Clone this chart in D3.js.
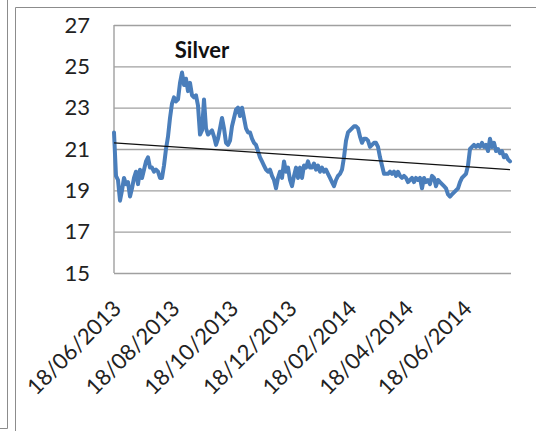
<!DOCTYPE html>
<html><head><meta charset="utf-8">
<script src="https://cdn.jsdelivr.net/npm/d3@7"></script>
<style>html,body{margin:0;padding:0;background:#fff;}svg{display:block;}</style>
</head><body>
<script>
// ---- data ----
const title = "Silver";
const dateRange = ["18/06/2013", "04/08/2014"];
const tickLabels = ["18/06/2013","18/08/2013","18/10/2013","18/12/2013","18/02/2014","18/04/2014","18/06/2014"];
const yTicks = [15, 17, 19, 21, 23, 25, 27];
const trendEnds = [21.3, 20.0];
const values = [
 21.8,19.7,19.5,18.5,19.0,19.6,19.3,19.4,18.7,19.1,19.6,19.9,19.3,20.0,19.6,20.0,20.4,20.6,20.1,20.1,
 19.9,20.0,19.9,19.6,19.6,20.2,21.0,21.6,22.5,23.2,23.5,23.3,23.4,24.2,24.7,24.1,24.4,23.8,24.2,23.6,
 23.5,23.6,23.1,21.7,21.9,23.4,22.0,21.7,21.8,
 21.9,21.6,21.2,21.5,22.0,22.5,22.0,21.3,21.2,21.4,22.1,22.5,22.9,23.0,22.6,23.0,22.5,22.0,21.8,21.8,
 21.5,21.3,21.2,20.9,20.6,20.4,20.2,20.0,19.9,20.0,19.7,19.5,19.1,19.6,19.9,19.6,20.4,19.9,20.1,19.5,
 19.2,19.7,20.1,19.6,20.1,19.6,20.2,20.1,20.4,20.1,
 20.1,20.3,20.0,20.2,19.9,20.1,19.9,20.0,19.8,19.6,19.4,19.2,19.5,19.7,19.8,20.0,20.6,21.4,21.8,21.9,
 22.0,22.1,22.1,22.0,21.6,21.3,21.5,21.5,21.4,21.1,21.2,21.3,21.3,21.1,20.6,20.2,19.8,19.8,19.8,19.9,
 19.8,19.9,19.7,19.9,19.7,19.6,19.7,19.6,19.4,19.5,
 19.6,19.4,19.6,19.5,19.6,19.1,19.6,19.4,19.5,19.3,19.7,19.6,19.2,19.5,19.4,19.3,19.2,19.1,18.8,18.7,
 18.8,18.9,19.0,19.1,19.4,19.6,19.7,19.8,20.2,21.0,21.1,21.2,21.1,21.2,21.1,21.3,21.1,21.2,20.9,21.5,
 21.1,21.3,20.9,21.0,20.8,20.9,20.6,20.7,20.5,20.4
];

// ---- chart ----
const W = 536, H = 431;
const parse = d3.timeParse("%d/%m/%Y");
const d0 = parse(dateRange[0]), d1 = parse(dateRange[1]);
const span = d1 - d0;
const series = values.map((v, i) => ({date: new Date(+d0 + span * i / (values.length - 1)), v}));

const plot = {left: 114, right: 510, top: 25, bottom: 273};
const x = d3.scaleTime().domain([d0, d1]).range([plot.left, plot.right]);
const y = d3.scaleLinear().domain([15, 27]).range([plot.bottom, plot.top]);

const FONT = "Lato, 'Open Sans', sans-serif";
const svg = d3.select("body").append("svg").attr("width", W).attr("height", H);

// outer frames
const frame = svg.append("g").attr("fill", "none").attr("stroke", "#8c8c8c").attr("stroke-width", 1);
frame.append("path").attr("d", "M7.5,0 V428.5 H0");
frame.append("path").attr("d", "M15.5,431 V7.5 H536");

// y axis with gridlines
const yAxis = svg.append("g").attr("transform", `translate(${plot.left},0)`)
  .call(d3.axisLeft(y).tickValues(yTicks).tickSize(-(plot.right + 1 - plot.left)).tickPadding(24));
yAxis.select(".domain").remove();
yAxis.selectAll(".tick line").attr("stroke", "#a0a0a0").attr("stroke-width", 1.4);
yAxis.selectAll(".tick text").attr("font-family", FONT).attr("font-size", 22).attr("fill", "#222");

// left axis line
svg.append("line").attr("x1", plot.left).attr("x2", plot.left)
  .attr("y1", y(27)).attr("y2", y(15)).attr("stroke", "#a0a0a0").attr("stroke-width", 1.4);

// x axis labels
const xAxis = svg.append("g").attr("transform", `translate(0,${plot.bottom})`)
  .call(d3.axisBottom(x).tickValues(tickLabels.map(parse)).tickSize(0).tickFormat(d3.timeFormat("%d/%m/%Y")));
xAxis.select(".domain").remove();
xAxis.selectAll(".tick text")
  .attr("font-family", FONT).attr("font-size", 22).attr("fill", "#222")
  .attr("text-anchor", "end").attr("dy", 0).attr("y", 0)
  .attr("transform", "translate(8,37) rotate(-45)");

// series line
const line = d3.line().x(d => x(d.date)).y(d => y(d.v));
svg.append("path").datum(series).attr("d", line)
  .attr("fill", "none").attr("stroke", "#4a7ebb").attr("stroke-width", 4)
  .attr("stroke-linejoin", "round").attr("stroke-linecap", "round");

// trend line
svg.append("line")
  .attr("x1", x(d0)).attr("y1", y(trendEnds[0]))
  .attr("x2", x(d1)).attr("y2", y(trendEnds[1]))
  .attr("stroke", "#111").attr("stroke-width", 1.3);

// title
svg.append("text").attr("x", 202).attr("y", 58).attr("text-anchor", "middle")
  .attr("font-family", FONT).attr("font-weight", "bold").attr("font-size", 22).attr("fill", "#111")
  .text(title);
</script>
</body></html>
